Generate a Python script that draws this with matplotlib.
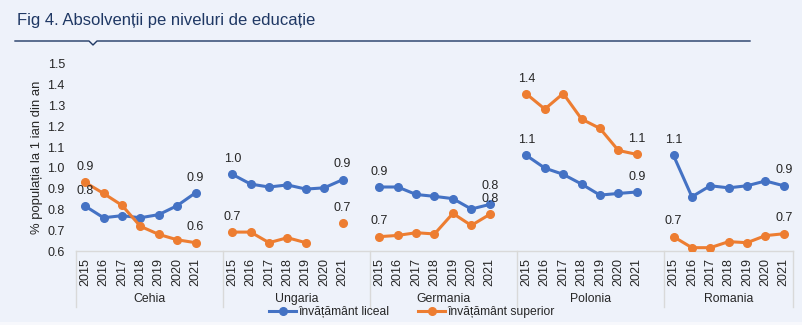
import numpy as np
import matplotlib
matplotlib.use("Agg")
import matplotlib.pyplot as plt
from matplotlib.lines import Line2D
import matplotlib.transforms as mtransforms

plt.rcParams['font.family'] = ['Liberation Sans', 'DejaVu Sans']

countries = ["Cehia", "Ungaria", "Germania", "Polonia", "Romania"]
years = ["2015", "2016", "2017", "2018", "2019", "2020", "2021"]

liceal = {
    "Cehia":    [0.816, 0.760, 0.770, 0.760, 0.775, 0.818, 0.880],
    "Ungaria":  [0.969, 0.922, 0.908, 0.918, 0.898, 0.904, 0.943],
    "Germania": [0.908, 0.908, 0.872, 0.863, 0.852, 0.802, 0.824],
    "Polonia":  [1.060, 0.999, 0.969, 0.922, 0.869, 0.877, 0.884],
    "Romania":  [1.060, 0.861, 0.914, 0.904, 0.914, 0.937, 0.914],
}
superior = {
    "Cehia":    [0.930, 0.877, 0.820, 0.719, 0.680, 0.654, 0.640],
    "Ungaria":  [0.691, 0.691, 0.640, 0.664, 0.640, np.nan, 0.733],
    "Germania": [0.669, 0.675, 0.688, 0.682, 0.781, 0.723, 0.776],
    "Polonia":  [1.356, 1.283, 1.358, 1.235, 1.190, 1.084, 1.065],
    "Romania":  [0.669, 0.616, 0.616, 0.645, 0.640, 0.674, 0.683],
}

series = [("învățământ liceal", liceal, "#4472C4"),
          ("învățământ superior", superior, "#ED7D31")]

BG = "#EEF2FA"
TXT = "#262626"
W, H = 802, 325
fig = plt.figure(figsize=(W / 100, H / 100), dpi=100, facecolor=BG)

# light strip along the bottom edge
fig.patches.append(plt.Rectangle((0, 0), 1, 3 / H, transform=fig.transFigure,
                                 facecolor="#F7F8FC", edgecolor="none", zorder=0))

ax = fig.add_axes([76 / W, 74 / H, (793 - 76) / W, (251 - 64) / H])
ax.set_facecolor(BG)
ax.set_xlim(-0.5, 8 * len(countries) - 1.5)
ax.set_ylim(0.6, 1.5)

slots_per_group = 8  # seven years plus one empty slot between countries
n_slots = slots_per_group * len(countries) - 1

# pixels per data unit on the y axis, used to keep stacked labels apart
px_per_unit = (251 - 64) / (1.5 - 0.6)
min_gap_px = 13.0

xticks, xlabels = [], []
for g, c in enumerate(countries):
    xs = np.arange(len(years)) + g * slots_per_group
    xticks.extend(xs)
    xlabels.extend(years)
    for name, data, col in series:
        vals = np.array(data[c], dtype=float)
        ax.plot(xs, vals, color=col, lw=2.2, marker="o", ms=5.5,
                solid_capstyle="round", zorder=3)
    for i in (0, len(years) - 1):
        pts = sorted([(data[c][i], col) for _, data, col in series])
        extra = 0.0
        lo = pts[0][0]
        gap = (pts[1][0] - lo) * px_per_unit
        if gap < min_gap_px:
            extra = (min_gap_px - gap) * 72 / 100
        for k, (v, col) in enumerate(pts):
            ax.annotate(f"{v:.1f}", (xs[i], v),
                        xytext=(0, 11 + (extra if k == 1 else 0)),
                        textcoords="offset points", ha="center", va="center",
                        fontsize=9, color=TXT)

ax.set_xlim(-0.5, n_slots - 0.5)
ticks = np.round(np.arange(0.6, 1.51, 0.1), 1)
ax.set_yticks(ticks)
ax.set_yticklabels([f"{v:.1f}" for v in ticks])
ax.set_xticks(xticks)
ax.set_xticklabels(xlabels, rotation=90)
ax.tick_params(axis="both", length=0, labelsize=9, colors=TXT)
ax.tick_params(axis="x", pad=5)
ax.tick_params(axis="y", pad=8)

for s in ("top", "right", "left"):
    ax.spines[s].set_visible(False)
ax.spines["bottom"].set_color("#D9D9D9")
ax.spines["bottom"].set_linewidth(1.0)

ax.set_ylabel("% populația la 1 ian din an", fontsize=9.4, color=TXT, labelpad=3)

# country separators and names below the year labels
trans = mtransforms.blended_transform_factory(ax.transData, ax.transAxes)
sep_bottom = -(307 - 251) / (251 - 64)
edges = [-0.5] + [g * slots_per_group - 0.5 for g in range(1, len(countries))] + [n_slots - 0.5]
for e in edges:
    ax.plot([e, e], [0, sep_bottom], transform=trans, color="#D9D9D9",
            lw=1.0, clip_on=False)
name_y = -(299 - 251) / (251 - 64)
for g, c in enumerate(countries):
    ax.text((edges[g] + edges[g + 1]) / 2, name_y, c, transform=trans,
            ha="center", va="center", fontsize=8.8, color=TXT)

# legend
handles = [Line2D([], [], color=col, lw=2.2, marker="o", ms=5.5) for _, _, col in series]
fig.legend(handles, [n for n, _, _ in series], loc="center", ncol=2,
           bbox_to_anchor=(412 / W, 1 - 312 / H), frameon=False, fontsize=8.7,
           handlelength=2.2, handletextpad=0.2, columnspacing=2.4,
           labelcolor=TXT)

# title with rule and small notch
fig.text(17 / W, 1 - 20 / H, "Fig 4. Absolvenții pe niveluri de educație",
         ha="left", va="center", fontsize=12, color="#1F3864")
ly = 1 - 41 / H
fig.add_artist(Line2D([15 / W, 89 / W, 93 / W, 97 / W, 750 / W],
                      [ly, ly, ly - 4 / H, ly, ly],
                      transform=fig.transFigure, color="#1F3864", lw=1.0))

fig.savefig("out.png", dpi=100, facecolor=BG)
